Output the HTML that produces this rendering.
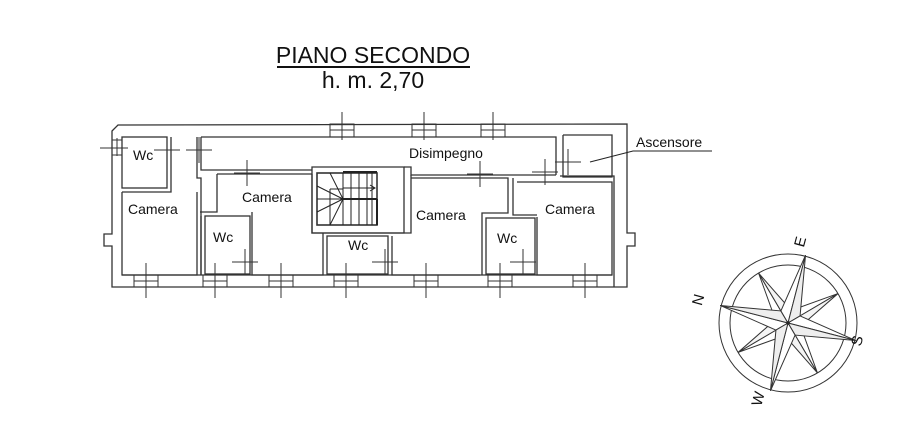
<!DOCTYPE html>
<html><head><meta charset="utf-8"><style>
html,body{margin:0;padding:0;background:#fff}
svg{display:block}
text{font-family:"Liberation Sans",Arial,sans-serif;fill:#111}
</style></head><body>
<svg id="s" width="906" height="428" viewBox="0 0 906 428" xmlns="http://www.w3.org/2000/svg">
<text x="373" y="63" font-size="23" text-anchor="middle">PIANO SECONDO</text>
<line x1="277" y1="67" x2="470" y2="67" stroke="#111" stroke-width="2"/>
<text x="373" y="88" font-size="23" text-anchor="middle">h. m. 2,70</text>
<g fill="none" stroke="#333" stroke-width="1.3">
<path d="M112,131 L118,125 L627,124 L627,233 L635,233 L635,246 L627,246 L627,287 L112,287 L112,246 L104,246 L104,234 L112,234 Z"/>
<rect x="122" y="137" width="45" height="51"/>
<path d="M122,192 L171,192 L171,137"/>
<path d="M122,192 L122,275 L197,275 L197,192"/>
<path d="M201,275 L201,178 L197,178 L197,137"/>
<path d="M201,137 L556,137 L556,175"/>
<path d="M201,137 L201,170 L312,170"/>
<path d="M563,135 L563,177 L612,177 L612,135 L563,135"/>
<path d="M556,175 L411,175 L411,167 L404,167"/>
<path d="M217,174 L312,174"/>
<path d="M217,174 L217,212 L200,212"/>
<path d="M201,216 L201,275"/>
<rect x="205" y="216" width="45" height="58"/>
<path d="M252,212 L252,275 L323,275 L323,233"/>
<path d="M312,174 L312,233 L323,233"/>
<path d="M312,167 L404,167 L404,233 L312,233 Z"/>
<rect x="317" y="173" width="60" height="52" stroke-width="1.6"/>
<rect x="327" y="236" width="61" height="38"/>
<path d="M323,233 L392,233"/>
<path d="M392,236 L392,275 L480,275"/>
<path d="M411,175 L411,233 L392,233"/>
<path d="M411,178 L508,178 L508,213 L482,213 L482,275"/>
<rect x="486" y="218" width="49" height="56"/>
<path d="M513,178 L513,215 L537,215"/>
<path d="M537,217 L537,275 L612,275 L612,182 L517,182"/>
<path d="M560,176 L614,176 L614,287"/>
<path d="M122,275 L612,275"/>
</g>
<g stroke="#222" stroke-width="1">
<line x1="343" y1="173" x2="343" y2="225"/><line x1="351" y1="173" x2="351" y2="225"/>
<line x1="359" y1="173" x2="359" y2="225"/><line x1="367" y1="173" x2="367" y2="225"/>
<line x1="372" y1="173" x2="372" y2="225"/>
<line x1="330" y1="189" x2="343" y2="189"/><line x1="330" y1="189" x2="330" y2="225"/>
<line x1="317" y1="199" x2="343" y2="199"/>
<line x1="343" y1="199" x2="317" y2="186"/><line x1="343" y1="199" x2="330" y2="173"/>
<line x1="343" y1="199" x2="317" y2="212"/><line x1="343" y1="199" x2="330" y2="225"/>
<line x1="343" y1="188" x2="374" y2="188"/><path d="M370,185 L375,188 L370,191" fill="none"/>
<line x1="343" y1="199" x2="377" y2="199" stroke-width="2"/>
<line x1="377" y1="199" x2="377" y2="225" stroke-width="2"/>
<line x1="343" y1="172" x2="377" y2="172" stroke-width="2"/>
<polyline points="590,162 633,151 712,151" fill="none"/>
</g>
<g id="win" fill="none" stroke="#333" stroke-width="1"></g>
<g font-size="14">
<text x="133" y="160">Wc</text>
<text x="128" y="214">Camera</text>
<text x="242" y="202">Camera</text>
<text x="213" y="242">Wc</text>
<text x="348" y="250">Wc</text>
<text x="409" y="158">Disimpegno</text>
<text x="416" y="220">Camera</text>
<text x="497" y="243">Wc</text>
<text x="545" y="214">Camera</text>
<text x="636" y="147">Ascensore</text>
</g>
<g id="comp" fill="none" stroke="#333" stroke-width="1"></g>
<g font-size="15">
<text transform="translate(703,301) rotate(-75)" text-anchor="middle">N</text>
<text transform="translate(805,243) rotate(-75)" text-anchor="middle">E</text>
<text transform="translate(862,342) rotate(-75)" text-anchor="middle">S</text>
<text transform="translate(763,400) rotate(-75)" text-anchor="middle">W</text>
</g>
</svg>
<script>
var NS="http://www.w3.org/2000/svg",w=document.getElementById("win"),c=document.getElementById("comp");
function el(p,t,a){var e=document.createElementNS(NS,t);for(var k in a)e.setAttribute(k,a[k]);p.appendChild(e);return e;}
[342,424,493].forEach(function(x){el(w,"rect",{x:x-12,y:124,width:24,height:13});el(w,"line",{x1:x,y1:112,x2:x,y2:140});el(w,"line",{x1:x-12,y1:130,x2:x+12,y2:130});});
[146,215,281,346,426,500,585].forEach(function(x){el(w,"rect",{x:x-12,y:275,width:24,height:12});el(w,"line",{x1:x,y1:263,x2:x,y2:298});el(w,"line",{x1:x-12,y1:281,x2:x+12,y2:281});});
[[167,150],[199,150],[247,173],[245,262],[385,262],[480,174],[545,172],[523,262],[568,162]].forEach(function(p){el(w,"line",{x1:p[0]-13,y1:p[1],x2:p[0]+13,y2:p[1]});el(w,"line",{x1:p[0],y1:p[1]-13,x2:p[0],y2:p[1]+13});});
el(w,"rect",{x:112,y:140,width:10,height:15});el(w,"line",{x1:100,y1:148,x2:128,y2:148});el(w,"line",{x1:117,y1:138,x2:117,y2:156});
var cx=788,cy=323;
el(c,"circle",{cx:cx,cy:cy,r:69});el(c,"circle",{cx:cx,cy:cy,r:58});
function pt(a,r){a=a*Math.PI/180;return [cx+r*Math.cos(a),cy+r*Math.sin(a)];}
function star(a0,R,r,fill){for(var i=0;i<4;i++){var a=a0+i*90,t=pt(a,R),l=pt(a-45,r),rr=pt(a+45,r);
el(c,"polygon",{points:cx+","+cy+" "+t+" "+l,fill:"#fff"});el(c,"polygon",{points:cx+","+cy+" "+t+" "+rr,fill:fill});}}
star(194.5+45,58,13,"#f4f4f4");star(194.5,70,14,"#eee");
el(c,"circle",{cx:cx,cy:cy,r:1.5,fill:"#222"});
</script>
</body></html>
